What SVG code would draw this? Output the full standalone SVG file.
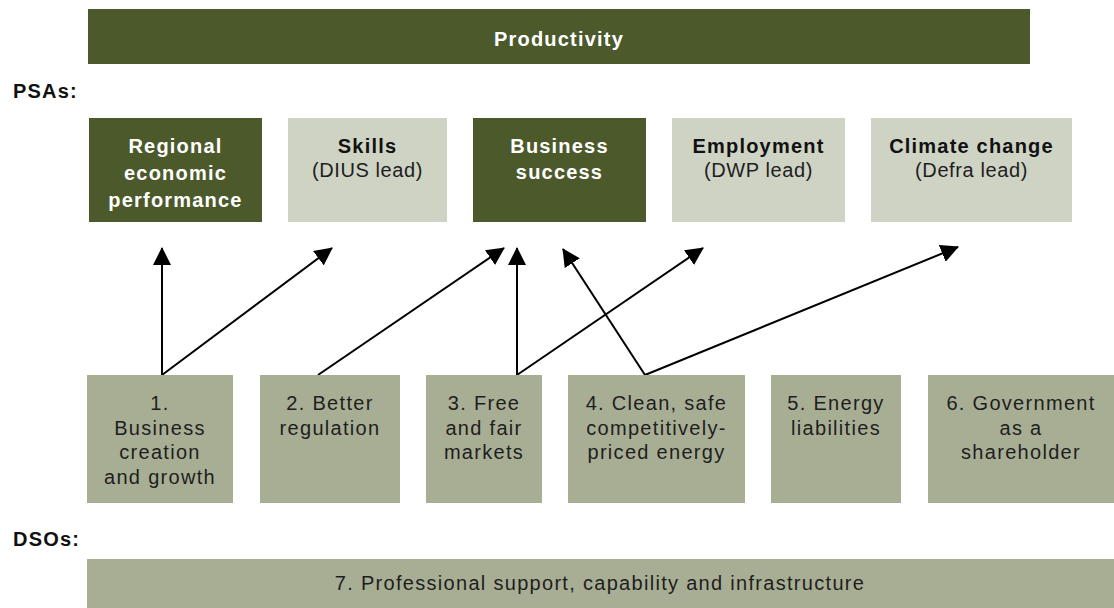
<svg xmlns="http://www.w3.org/2000/svg" width="1114" height="608" viewBox="0 0 1114 608">
  <style>
    .dark { fill: #4c5a2b; }
    .pale { fill: #cfd3c4; }
    .dso { fill: #a8ae94; }
    text { font-family: "Liberation Sans", Arial, sans-serif; font-size: 20px; }
    .b { font-weight: bold; letter-spacing: 1.2px; }
    .w { fill: #ffffff; }
    .k { fill: #111111; }
    .r { fill: #1e1e1e; letter-spacing: 0.6px; }
    .rr { fill: #1e1e1e; letter-spacing: 1.3px; }
    .m { text-anchor: middle; }
    .arrow { stroke: #000000; stroke-width: 2; fill: none; marker-end: url(#head); }
  </style>
  <defs>
    <marker id="head" viewBox="0 0 18 18" refX="17" refY="9" markerWidth="18" markerHeight="18" markerUnits="userSpaceOnUse" orient="auto">
      <path d="M0,0 L18,9 L0,18 z" fill="#000000"/>
    </marker>
  </defs>

  <rect width="1114" height="608" fill="#ffffff"/>

  <!-- top objective -->
  <g id="productivity">
    <rect class="dark" x="88" y="9" width="942" height="55"/>
    <text class="b w m" x="559" y="46">Productivity</text>
  </g>

  <text id="psas-label" class="b k" x="13" y="98">PSAs:</text>

  <!-- PSA targets -->
  <g id="psa-regional">
    <rect class="dark" x="89" y="118" width="173" height="104"/>
    <text class="b w m" x="175.5" y="153">Regional</text>
    <text class="b w m" x="175.5" y="180">economic</text>
    <text class="b w m" x="175.5" y="207">performance</text>
  </g>
  <g id="psa-skills">
    <rect class="pale" x="288" y="118" width="159" height="104"/>
    <text class="b k m" x="367.5" y="153">Skills</text>
    <text class="r m" x="367.5" y="177">(DIUS lead)</text>
  </g>
  <g id="psa-business">
    <rect class="dark" x="473" y="118" width="173" height="104"/>
    <text class="b w m" x="559.5" y="153">Business</text>
    <text class="b w m" x="559.5" y="179">success</text>
  </g>
  <g id="psa-employment">
    <rect class="pale" x="672" y="118" width="173" height="104"/>
    <text class="b k m" x="758.5" y="153">Employment</text>
    <text class="r m" x="758.5" y="177">(DWP lead)</text>
  </g>
  <g id="psa-climate">
    <rect class="pale" x="871" y="118" width="201" height="104"/>
    <text class="b k m" x="971.5" y="153">Climate change</text>
    <text class="r m" x="971.5" y="177">(Defra lead)</text>
  </g>

  <!-- links from DSOs up to PSAs -->
  <g id="connectors">
    <line class="arrow" x1="162" y1="375" x2="162" y2="248"/>
    <line class="arrow" x1="162" y1="375" x2="332" y2="248"/>
    <line class="arrow" x1="318" y1="375" x2="504" y2="248"/>
    <line class="arrow" x1="517" y1="375" x2="517" y2="248"/>
    <line class="arrow" x1="517" y1="375" x2="703" y2="248"/>
    <line class="arrow" x1="645" y1="375" x2="563" y2="249"/>
    <line class="arrow" x1="645" y1="375" x2="958" y2="247"/>
  </g>

  <!-- DSO objectives -->
  <g id="dso-1">
    <rect class="dso" x="87" y="375" width="146" height="128"/>
    <text class="rr m" x="160" y="410">1.</text>
    <text class="rr m" x="160" y="434.5">Business</text>
    <text class="rr m" x="160" y="459">creation</text>
    <text class="rr m" x="160" y="484">and growth</text>
  </g>
  <g id="dso-2">
    <rect class="dso" x="260" y="375" width="140" height="128"/>
    <text class="rr m" x="330" y="410">2. Better</text>
    <text class="rr m" x="330" y="434.5">regulation</text>
  </g>
  <g id="dso-3">
    <rect class="dso" x="426" y="375" width="116" height="128"/>
    <text class="rr m" x="484" y="410">3. Free</text>
    <text class="rr m" x="484" y="434.5">and fair</text>
    <text class="rr m" x="484" y="459">markets</text>
  </g>
  <g id="dso-4">
    <rect class="dso" x="568" y="375" width="177" height="128"/>
    <text class="rr m" x="656.5" y="410">4. Clean, safe</text>
    <text class="rr m" x="656.5" y="434.5">competitively-</text>
    <text class="rr m" x="656.5" y="459">priced energy</text>
  </g>
  <g id="dso-5">
    <rect class="dso" x="771" y="375" width="130" height="128"/>
    <text class="rr m" x="836" y="410">5. Energy</text>
    <text class="rr m" x="836" y="434.5">liabilities</text>
  </g>
  <g id="dso-6">
    <rect class="dso" x="928" y="375" width="186" height="128"/>
    <text class="rr m" x="1021" y="410">6. Government</text>
    <text class="rr m" x="1021" y="434.5">as a</text>
    <text class="rr m" x="1021" y="459">shareholder</text>
  </g>

  <text id="dsos-label" class="b k" x="13" y="546">DSOs:</text>

  <g id="dso-7">
    <rect class="dso" x="87" y="559" width="1027" height="49"/>
    <text class="rr m" x="600" y="590">7. Professional support, capability and infrastructure</text>
  </g>
</svg>
